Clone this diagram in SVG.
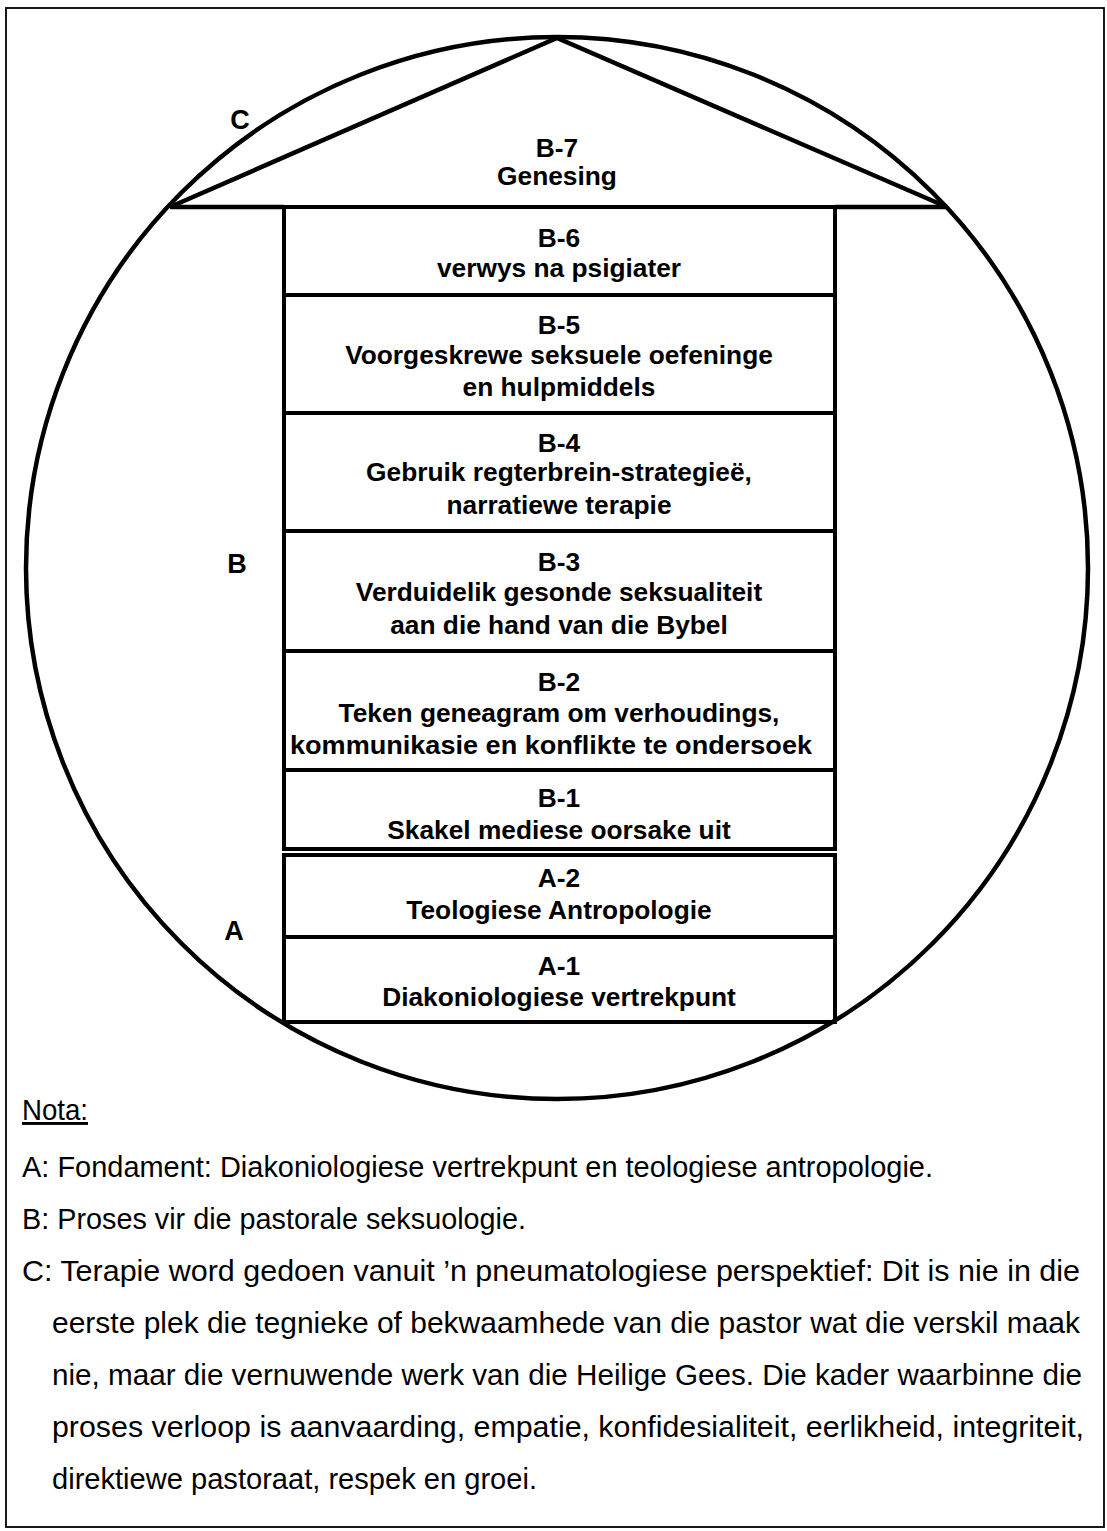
<svg xmlns="http://www.w3.org/2000/svg" width="1107" height="1531" viewBox="0 0 1107 1531">
<style>
.frame{fill:none;stroke:#000;stroke-width:1.8}
.shape{fill:none;stroke:#000;stroke-width:4.5}
.box{fill:none;stroke:#000;stroke-width:4}
.t{font-family:"Liberation Sans",Arial,sans-serif;font-weight:bold;font-size:26.3px;text-anchor:middle;fill:#000}
.lbl{font-family:"Liberation Sans",Arial,sans-serif;font-weight:bold;font-size:27px;text-anchor:middle;fill:#000}
.n{font-family:"Liberation Sans",Arial,sans-serif;font-size:29px;fill:#000}
</style>
<rect width="1107" height="1531" fill="#fff"/>
<rect class="frame" x="6" y="8" width="1098" height="1519"/>
<g id="outline">
<circle class="shape" cx="557" cy="568" r="531"/>
</g>
<g id="connectors">
<polyline class="shape" points="170,207 557,38 947,207"/>
<line class="shape" x1="170" y1="207" x2="284" y2="207"/>
<line class="shape" x1="835" y1="207" x2="947" y2="207"/>
</g>
<g id="label-C"><text class="lbl" x="240" y="129">C</text></g>
<g id="label-B"><text class="lbl" x="237" y="573">B</text></g>
<g id="label-A"><text class="lbl" x="234" y="940">A</text></g>
<g id="B7">
<text class="t" x="557" y="157">B-7</text>
<text class="t" x="557" y="185">Genesing</text>
</g>
<g id="B6">
<rect class="box" x="284" y="207" width="551" height="88"/>
<text class="t" x="559" y="247">B-6</text>
<text class="t" x="559" y="277">verwys na psigiater</text>
</g>
<g id="B5">
<rect class="box" x="284" y="295" width="551" height="118"/>
<text class="t" x="559" y="334">B-5</text>
<text class="t" x="559" y="364">Voorgeskrewe seksuele oefeninge</text>
<text class="t" x="559" y="396">en hulpmiddels</text>
</g>
<g id="B4">
<rect class="box" x="284" y="413" width="551" height="118"/>
<text class="t" x="559" y="452">B-4</text>
<text class="t" x="559" y="481">Gebruik regterbrein-strategieë,</text>
<text class="t" x="559" y="514">narratiewe terapie</text>
</g>
<g id="B3">
<rect class="box" x="284" y="531" width="551" height="120"/>
<text class="t" x="559" y="571">B-3</text>
<text class="t" x="559" y="601">Verduidelik gesonde seksualiteit</text>
<text class="t" x="559" y="634">aan die hand van die Bybel</text>
</g>
<g id="B2">
<rect class="box" x="284" y="651" width="551" height="119"/>
<text class="t" x="559" y="691">B-2</text>
<text class="t" x="559" y="722">Teken geneagram om verhoudings,</text>
<text class="t" x="551" y="754" textLength="522" lengthAdjust="spacingAndGlyphs">kommunikasie en konflikte te ondersoek</text>
</g>
<g id="B1">
<rect class="box" x="284" y="770" width="551" height="79"/>
<text class="t" x="559" y="807">B-1</text>
<text class="t" x="559" y="839">Skakel mediese oorsake uit</text>
</g>
<g id="A2">
<rect class="box" x="284" y="855" width="551" height="82"/>
<text class="t" x="559" y="887">A-2</text>
<text class="t" x="559" y="919">Teologiese Antropologie</text>
</g>
<g id="A1">
<rect class="box" x="284" y="937" width="551" height="85"/>
<text class="t" x="559" y="975">A-1</text>
<text class="t" x="559" y="1006">Diakoniologiese vertrekpunt</text>
</g>
<g id="nota">
<text class="n" x="22" y="1120" text-decoration="underline" textLength="66" lengthAdjust="spacingAndGlyphs">Nota:</text>
<text class="n" x="22" y="1177" textLength="911" lengthAdjust="spacingAndGlyphs">A: Fondament: Diakoniologiese vertrekpunt en teologiese antropologie.</text>
<text class="n" x="22" y="1229" textLength="504" lengthAdjust="spacingAndGlyphs">B: Proses vir die pastorale seksuologie.</text>
<text class="n" x="22" y="1281" textLength="1058" lengthAdjust="spacingAndGlyphs">C: Terapie word gedoen vanuit ’n pneumatologiese perspektief: Dit is nie in die</text>
<text class="n" x="52" y="1333" textLength="1028" lengthAdjust="spacingAndGlyphs">eerste  plek die tegnieke of bekwaamhede van die pastor wat die verskil maak</text>
<text class="n" x="52" y="1385" textLength="1030" lengthAdjust="spacingAndGlyphs">nie, maar die vernuwende werk van die Heilige Gees. Die kader waarbinne die</text>
<text class="n" x="52" y="1437" textLength="1032" lengthAdjust="spacingAndGlyphs">proses verloop is aanvaarding, empatie, konfidesialiteit, eerlikheid, integriteit,</text>
<text class="n" x="52" y="1489" textLength="485" lengthAdjust="spacingAndGlyphs">direktiewe pastoraat, respek en groei.</text>
</g>
</svg>
